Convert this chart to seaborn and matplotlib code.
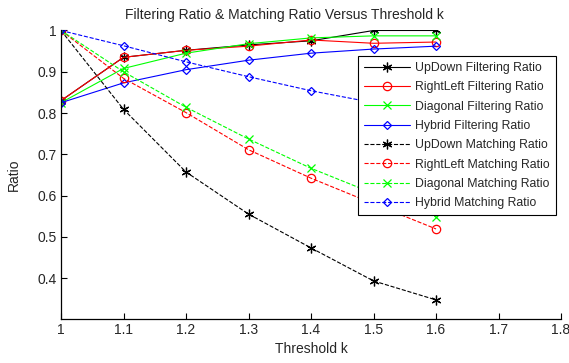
import matplotlib
matplotlib.use("Agg")
import matplotlib.pyplot as plt
import seaborn as sns
import pandas as pd

# threshold values
k = [1.0, 1.1, 1.2, 1.3, 1.4, 1.5, 1.6]

# filtering ratios
updown_filter = [0.830, 0.935, 0.952, 0.965, 0.975, 1.000, 1.000]
rightleft_filter = [0.830, 0.935, 0.952, 0.962, 0.977, 0.969, 0.972]
diagonal_filter = [0.825, 0.908, 0.945, 0.968, 0.982, 0.987, 0.987]
hybrid_filter = [0.825, 0.873, 0.905, 0.928, 0.945, 0.955, 0.962]

# matching ratios
updown_match = [1.000, 0.809, 0.657, 0.555, 0.473, 0.393, 0.347]
rightleft_match = [1.000, 0.884, 0.801, 0.711, 0.642, 0.580, 0.519]
diagonal_match = [1.000, 0.900, 0.814, 0.737, 0.666, 0.605, 0.548]
hybrid_match = [1.000, 0.963, 0.924, 0.888, 0.854, 0.825, 0.800]

series_names = [
    "UpDown Filtering Ratio", "RightLeft Filtering Ratio",
    "Diagonal Filtering Ratio", "Hybrid Filtering Ratio",
    "UpDown Matching Ratio", "RightLeft Matching Ratio",
    "Diagonal Matching Ratio", "Hybrid Matching Ratio",
]
series_values = [
    updown_filter, rightleft_filter, diagonal_filter, hybrid_filter,
    updown_match, rightleft_match, diagonal_match, hybrid_match,
]
x_ticks = [1, 1.1, 1.2, 1.3, 1.4, 1.5, 1.6, 1.7, 1.8]
x_tick_labels = ["1", "1.1", "1.2", "1.3", "1.4", "1.5", "1.6", "1.7", "1.8"]
y_ticks = [0.4, 0.5, 0.6, 0.7, 0.8, 0.9, 1.0]
y_tick_labels = ["0.4", "0.5", "0.6", "0.7", "0.8", "0.9", "1"]

sns.set_style("white")
plt.rcParams["font.family"] = ["Liberation Sans", "DejaVu Sans"]
plt.rcParams["xtick.direction"] = "in"
plt.rcParams["ytick.direction"] = "in"

colors = ["black", "red", "#00ff00", "blue"]
# asterisk, open circle, cross, open diamond
markers = [(6, 2, 0), "o", "x", "D"]
msizes = [7, 6, 5.5, 4.5]

fig = plt.figure(figsize=(5.69, 3.63), dpi=100)
ax = fig.add_axes([0.1072, 0.1204, 0.8788, 0.7956])

for i, (name, vals) in enumerate(zip(series_names, series_values)):
    df = pd.DataFrame({"k": k, "ratio": vals})
    style = "-" if i < 4 else "--"
    sns.lineplot(data=df, x="k", y="ratio", ax=ax, color=colors[i % 4],
                 linestyle=style, marker=markers[i % 4], markersize=msizes[i % 4],
                 markerfacecolor="none", markeredgecolor=colors[i % 4],
                 markeredgewidth=0.9, linewidth=0.8, label=name)

ax.set_xlim(1, 1.8)
ax.set_ylim(0.3, 1.0)
ax.set_xticks(x_ticks)
ax.set_xticklabels(x_tick_labels)
ax.set_yticks(y_ticks)
ax.set_yticklabels(y_tick_labels)
ax.tick_params(labelsize=10, length=4, width=0.8, color="black",
               left=True, bottom=True, pad=3)
ax.spines["top"].set_visible(False)
ax.spines["right"].set_visible(False)
for s in ["left", "bottom"]:
    ax.spines[s].set_color("black")
    ax.spines[s].set_linewidth(0.9)

ax.set_xlabel("Threshold k", fontsize=10, labelpad=3)
ax.set_ylabel("Ratio", fontsize=10, labelpad=12)
fig.text(0.5, 0.958, "Filtering Ratio & Matching Ratio Versus Threshold k",
         ha="center", va="center", fontsize=10)

leg = ax.legend(loc="upper right", bbox_to_anchor=(0.99, 0.912), fontsize=8.8,
                handlelength=3.8, frameon=True, fancybox=False,
                borderpad=0.5, labelspacing=0.6, handletextpad=0.4,
                borderaxespad=0)
leg.get_frame().set_edgecolor("black")
leg.get_frame().set_linewidth(0.8)
leg.get_frame().set_alpha(1)

fig.savefig("out.png", dpi=100)
